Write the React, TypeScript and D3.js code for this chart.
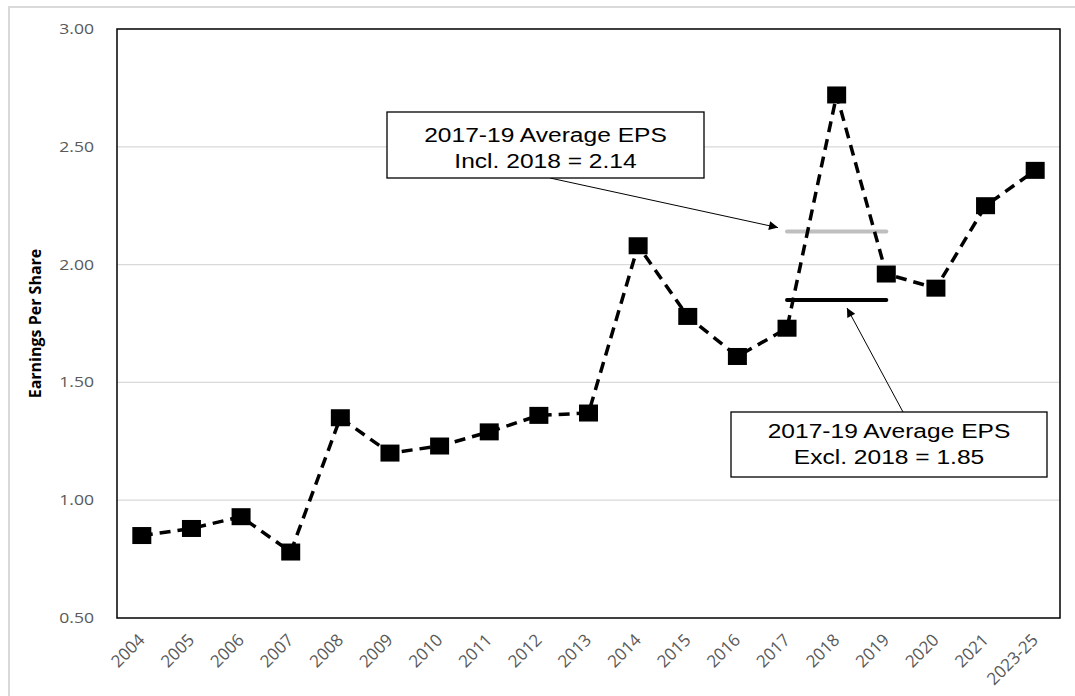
import React from "react";
import * as d3 from "d3";

// Earnings per share by year
const categories: string[] = [
  "2004", "2005", "2006", "2007", "2008", "2009", "2010", "2011", "2012", "2013",
  "2014", "2015", "2016", "2017", "2018", "2019", "2020", "2021", "2023-25",
];
const eps: number[] = [
  0.85, 0.88, 0.93, 0.78, 1.35, 1.2, 1.23, 1.29, 1.36, 1.37,
  2.08, 1.78, 1.61, 1.73, 2.72, 1.96, 1.9, 2.25, 2.4,
];
const yTicks: number[] = [0.5, 1.0, 1.5, 2.0, 2.5, 3.0];

// 2017-19 averages, with and without 2018
const avgIncl = 2.14;
const avgExcl = 1.85;
const avgSpan: [string, string] = ["2017", "2019"];

const W = 1075;
const H = 696;
const left = 117;
const right = 1060;
const top = 29;
const bottom = 618;
const SX = 1.17; // horizontal text stretch

export default function App() {
  const x = d3.scalePoint<string>().domain(categories).range([left, right]).padding(0.5);
  const y = d3.scaleLinear().domain([0.5, 3.0]).range([bottom, top]);

  const line = d3
    .line<number>()
    .x((_, i) => x(categories[i]) as number)
    .y((d) => y(d));

  const xa = x(avgSpan[0]) as number;
  const xb = x(avgSpan[1]) as number;

  const annFont = "'Liberation Sans', Arial, sans-serif";
  const axFont = "'Open Sans', 'Noto Sans', sans-serif";

  // Callout boxes
  const box1 = { x: 387, y: 112, w: 317, h: 66 };
  const box2 = { x: 731, y: 412, w: 316, h: 65 };

  const arrow1 = { x1: 550, y1: box1.y + box1.h, x2: xa - 9, y2: y(avgIncl) - 4 };
  const arrow2 = { x1: 903, y1: box2.y, x2: 847, y2: y(avgExcl) + 8 };

  const stretched = (tx: number, ty: number) => `translate(${tx},${ty}) scale(${SX},1)`;

  return (
    <svg
      width={W}
      height={H}
      style={{ position: "absolute", left: 0, top: 0, background: "#fff" }}
    >
      <defs>
        <marker
          id="arrowhead"
          viewBox="0 0 10 10"
          refX="10"
          refY="5"
          markerWidth="14"
          markerHeight="9"
          markerUnits="userSpaceOnUse"
          orient="auto"
        >
          <path d="M0,0 L10,5 L0,10 Z" fill="#000" />
        </marker>
      </defs>
      <rect x={9} y={7} width={W} height={H} fill="#fff" stroke="#d9d9d9" strokeWidth={2} />

      {/* gridlines */}
      {yTicks.slice(1, -1).map((t) => (
        <line key={t} x1={left} x2={right} y1={y(t)} y2={y(t)} stroke="#d9d9d9" strokeWidth={1.3} />
      ))}

      {/* plot frame */}
      <rect x={left} y={top} width={right - left} height={bottom - top} fill="none" stroke="#000" strokeWidth={1.5} />

      {/* y tick labels */}
      {yTicks.map((t) => (
        <text
          key={t}
          transform={stretched(94, y(t) + 5)}
          textAnchor="end"
          fontFamily={axFont}
          fontSize={15}
          fill="#595959"
        >
          {t.toFixed(2)}
        </text>
      ))}

      {/* x tick labels */}
      {categories.map((c) => (
        <text
          key={c}
          transform={`translate(${(x(c) as number) + 4},641) rotate(-45)`}
          textAnchor="end"
          fontFamily={axFont}
          fontSize={17}
          fill="#595959"
        >
          {c}
        </text>
      ))}

      {/* y axis title */}
      <text
        transform={`translate(41,${(top + bottom) / 2}) rotate(-90)`}
        textAnchor="middle"
        fontFamily={axFont}
        fontWeight="bold"
        fontSize={16}
        fill="#000"
      >
        Earnings Per Share
      </text>

      {/* average lines */}
      <line x1={xa} x2={xb} y1={y(avgIncl)} y2={y(avgIncl)} stroke="#bfbfbf" strokeWidth={4} strokeLinecap="round" />
      <line x1={xa} x2={xb} y1={y(avgExcl)} y2={y(avgExcl)} stroke="#000" strokeWidth={4} strokeLinecap="round" />

      {/* EPS series */}
      <path d={line(eps) ?? ""} fill="none" stroke="#000" strokeWidth={3.5} strokeDasharray="11,7" />
      {eps.map((v, i) => (
        <rect
          key={categories[i]}
          x={(x(categories[i]) as number) - 9.5}
          y={y(v) - 8.5}
          width={19}
          height={17}
          fill="#000"
        />
      ))}

      {/* callouts */}
      <line {...arrow1} stroke="#000" strokeWidth={1} markerEnd="url(#arrowhead)" />
      <line {...arrow2} stroke="#000" strokeWidth={1} markerEnd="url(#arrowhead)" />

      <rect {...{ x: box1.x, y: box1.y, width: box1.w, height: box1.h }} fill="#fff" stroke="#000" strokeWidth={1.3} />
      <text transform={stretched(box1.x + box1.w / 2, 142)} textAnchor="middle" fontFamily={annFont} fontSize={21} fill="#000">
        2017-19 Average EPS
      </text>
      <text transform={stretched(box1.x + box1.w / 2, 168)} textAnchor="middle" fontFamily={annFont} fontSize={21} fill="#000">
        {`Incl. 2018 = ${avgIncl.toFixed(2)}`}
      </text>

      <rect {...{ x: box2.x, y: box2.y, width: box2.w, height: box2.h }} fill="#fff" stroke="#000" strokeWidth={1.3} />
      <text transform={stretched(box2.x + box2.w / 2, 438)} textAnchor="middle" fontFamily={annFont} fontSize={21} fill="#000">
        2017-19 Average EPS
      </text>
      <text transform={stretched(box2.x + box2.w / 2, 464)} textAnchor="middle" fontFamily={annFont} fontSize={21} fill="#000">
        {`Excl. 2018 = ${avgExcl.toFixed(2)}`}
      </text>
    </svg>
  );
}
